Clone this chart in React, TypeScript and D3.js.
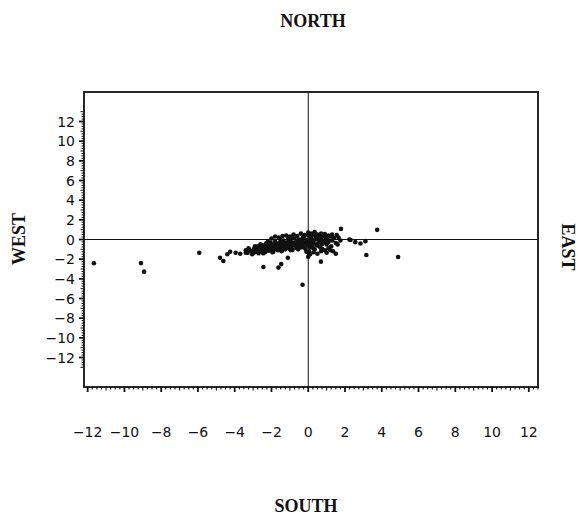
import React from "react";
import * as d3 from "d3";

// Tick labels
const xTickValues = [-12, -10, -8, -6, -4, -2, 0, 2, 4, 6, 8, 10, 12];
const yTickValues = [12, 10, 8, 6, 4, 2, 0, -2, -4, -6, -8, -10, -12];

// Scatter: x (east-west), y (north-south)
const outlierX = [-11.66, -9.1, -8.93, -5.93, -4.8, -4.62, -4.25, -3.95, -4.4, -3.7, -2.44, -1.62, -1.47, -1.11, -0.31, 0.69, 1.78, 3.75, 3.16, 4.89, 2.24, 1.75, 2.3, 2.56, 2.84, 3.11, -3.4];
const outlierY = [-2.42, -2.4, -3.27, -1.35, -1.85, -2.19, -1.25, -1.35, -1.5, -1.45, -2.8, -2.86, -2.5, -1.85, -4.6, -2.25, 1.08, 0.98, -1.58, -1.78, 0.0, -0.1, -0.05, -0.27, -0.4, -0.17, -1.35];

const clusterX = [
  -3.4, -3.3, -3.25, -3.1, -3.05, -2.95, -2.9, -2.8, -2.75, -2.7, -2.6, -2.55, -2.5, -2.45,
  -2.4, -2.35, -2.3, -2.25, -2.2, -2.15, -2.1, -2.05, -2.0, -1.95, -1.9, -1.85, -1.8, -1.75, -1.7, -1.65, -1.6, -1.55, -1.5,
  -1.45, -1.4, -1.35, -1.3, -1.25, -1.2, -1.15, -1.1, -1.05, -1.0, -0.95, -0.9, -0.85, -0.8, -0.75, -0.7, -0.65, -0.6, -0.55, -0.5,
  -0.45, -0.4, -0.35, -0.3, -0.25, -0.2, -0.15, -0.1, -0.05, 0.0, 0.05, 0.1, 0.15, 0.2, 0.25, 0.3, 0.35, 0.4, 0.45, 0.5,
  0.55, 0.6, 0.65, 0.7, 0.75, 0.8, 0.85, 0.9, 0.95, 1.0, 1.05, 1.1, 1.2, 1.25, 1.3, 1.4, 1.5, 1.55,
  0.3, 0.5, 0.7, 1.0, 1.2, 1.5, -0.1, 0.1, 0.05, 0.05, 0.0,
  -2.6, -2.3, -2.0, -1.8, -1.6, -1.4, -1.2, -1.0, -0.9, -0.7, -0.5, -0.3, -0.1, 0.1, 0.3, 0.5, 0.7, 0.9,
  -1.9, -2.2, -1.3, -0.6, 0.0, 0.2, -1.7, -1.1, -0.4, 0.6, -2.5, -2.8,
  -2.0, -1.8, -1.6, -1.4, -1.2, -1.0, -0.8, -0.6, -0.4, -0.2, 0.0, 0.2, 0.35, 0.5, 0.7, 0.9, 1.1, 1.3,
  -2.2, -2.6, -2.9, -1.5, -0.9, -0.3, 0.15, 0.45, -2.45, -1.95, -1.45, -0.95, -0.55, -0.25, 0.25, 0.75,
  1.1, 1.35, 1.6, 1.65, -3.2, -3.0
];
const clusterY = [
  -1.1, -1.35, -0.9, -1.2, -1.5, -0.95, -1.3, -1.05, -0.7, -1.4, -0.9, -1.2, -0.6, -1.0,
  -0.75, -1.3, -0.4, -0.95, -0.6, -1.15, -0.8, -0.3, -1.0, -0.55, -1.25, -0.7, -0.2, -0.95, -0.45, -1.1, -0.65, -0.3, -0.85,
  -1.2, -0.5, -0.1, -0.75, -1.0, -0.35, -0.6, 0.05, -0.9, -0.45, -0.2, -0.7, -1.05, -0.35, 0.1, -0.55, -0.85, -0.25, -0.6, 0.0,
  -0.4, -0.8, -0.15, -0.55, 0.25, -0.3, -0.95, -0.05, -0.6, 0.4, -0.2, -0.75, 0.15, -0.45, 0.55, -0.1, -1.0, 0.3, -0.55, 0.05,
  -0.3, 0.45, -0.8, 0.1, -0.45, 0.35, -0.15, -1.1, 0.2, -0.5, 0.0, -0.25, 0.3, -0.7, -0.1, 0.15, -0.35, 0.45,
  -1.3, -1.45, -1.2, -1.35, -1.1, -1.45, -1.25, -1.5, -1.2, -1.5, -1.75,
  -1.1, -1.05, -0.65, -0.55, -0.95, -0.8, -0.75, -0.75, -0.4, -0.3, -0.35, -0.3, -0.35, -0.1, -0.4, -0.6, -0.2, -0.3,
  -0.9, -0.85, -0.4, -0.55, -0.5, 0.0, -0.75, -0.3, -0.1, -0.05, -0.85, -1.25,
  0.1, 0.3, 0.2, 0.35, 0.4, 0.3, 0.5, 0.35, 0.6, 0.45, 0.7, 0.6, 0.75, 0.5, 0.6, 0.55, 0.4, 0.5,
  -0.2, -0.5, -0.7, -0.05, 0.15, 0.15, 0.35, 0.2, -1.4, -1.3, -1.05, -1.1, -1.0, -0.8, -0.85, -0.95,
  -0.9, -1.2, -0.5, 0.2, -1.05, -1.35
];

const W = 578;
const H = 515;
const left = 84, right = 538, top = 92, bottom = 387;

export default function App() {
  const x = d3.scaleLinear().domain([-12.2, 12.5]).range([left, right]);
  const y = d3.scaleLinear().domain([-15, 15]).range([bottom, top]);

  const xMinor = d3.range(-12, 12.51, 0.25);
  const yMinor = d3.range(-13, 13.01, 0.25);
  const isMajor = (v: number) => Math.abs(v / 2 - Math.round(v / 2)) < 1e-6;
  const isHalf = (v: number) => Math.abs(v - Math.round(v)) < 1e-6;

  const fmt = (v: number) => (v < 0 ? "\u2212" + Math.abs(v) : String(v));

  const points: [number, number][] = [];
  outlierX.forEach((v, i) => points.push([v, outlierY[i]]));
  clusterX.forEach((v, i) => points.push([v, clusterY[i]]));

  const serif = "'Liberation Serif', 'DejaVu Serif', serif";
  const sans = "'DejaVu Sans', 'Liberation Sans', Arial, sans-serif";

  return (
    <svg width={W} height={H} style={{ position: "absolute", left: 0, top: 0, background: "#fff" }}>
      <rect x={0} y={0} width={W} height={H} fill="#fff" />
      {/* reference lines */}
      <line x1={left} x2={right} y1={y(0)} y2={y(0)} stroke="#111" strokeWidth={1} />
      <line x1={x(0)} x2={x(0)} y1={top} y2={bottom} stroke="#111" strokeWidth={1} />
      {/* frame */}
      <rect x={left} y={top} width={right - left} height={bottom - top} fill="none" stroke="#111" strokeWidth={1.8} />
      {/* x ticks */}
      {xMinor.map((v) => (
        <line key={"xt" + v} x1={x(v)} x2={x(v)} y1={bottom} y2={bottom + (isMajor(v) ? 5 : isHalf(v) ? 3.5 : 2.5)} stroke="#111" strokeWidth={isMajor(v) ? 1.8 : 1.1} />
      ))}
      {/* y ticks */}
      {yMinor.map((v) => (
        <line key={"yt" + v} x1={left} x2={left - (isMajor(v) ? 5 : isHalf(v) ? 3.5 : 2.5)} y1={y(v)} y2={y(v)} stroke="#111" strokeWidth={isMajor(v) ? 1.8 : 1} />
      ))}
      {/* x labels */}
      {xTickValues.map((v) => (
        <text key={"xl" + v} x={x(v)} y={437} textAnchor="middle" fontFamily={sans} fontSize={14} fill="#111">
          {fmt(v)}
        </text>
      ))}
      {/* y labels */}
      {yTickValues.map((v) => (
        <text key={"yl" + v} x={75} y={y(v) + 5} textAnchor="end" fontFamily={sans} fontSize={14} fill="#111">
          {fmt(v)}
        </text>
      ))}
      {/* points */}
      {points.map((p, i) => (
        <circle key={"p" + i} cx={x(p[0])} cy={y(p[1])} r={2.3} fill="#111" />
      ))}
      {/* direction labels */}
      <text x={313} y={27} textAnchor="middle" fontFamily={serif} fontWeight="bold" fontSize={18} fill="#111">NORTH</text>
      <text x={306} y={512} textAnchor="middle" fontFamily={serif} fontWeight="bold" fontSize={18} fill="#111">SOUTH</text>
      <text transform="translate(25,239) rotate(-90)" textAnchor="middle" fontFamily={serif} fontWeight="bold" fontSize={18} fill="#111">WEST</text>
      <text transform="translate(562,247) rotate(90)" textAnchor="middle" fontFamily={serif} fontWeight="bold" fontSize={18} fill="#111">EAST</text>
    </svg>
  );
}
